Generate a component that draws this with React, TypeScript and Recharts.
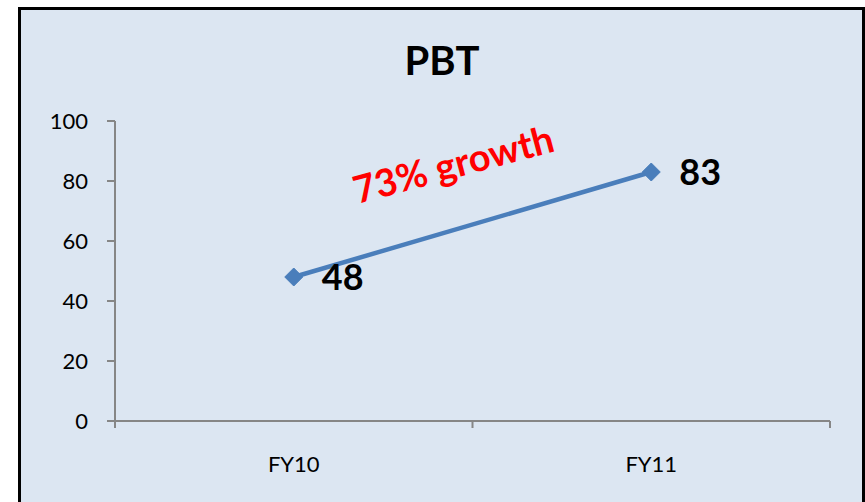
import React from 'react';
import { LineChart, Line, XAxis, YAxis, LabelList } from 'recharts';

const categories = ['FY10', 'FY11'];
const pbtValues = [48, 83];
const yTicks = [0, 20, 40, 60, 80, 100];
const chartTitle = 'PBT';
const annotation = '73% growth';

const data = categories.map((c, i) => ({ name: c, pos: i + 0.5, value: pbtValues[i] }));
const boundaryTicks = categories.map((_, i) => i).concat([categories.length]);
const centerTicks = categories.map((_, i) => i + 0.5);

const FONT = "Lato, 'Open Sans', sans-serif";
const AXIS = '#868686';
const LINE = '#4a7ebb';
const BG = '#dce6f2';

const Diamond = (props: any) => {
  const { cx, cy } = props;
  if (cx == null || cy == null) return null;
  const r = 9;
  return (
    <path
      d={`M${cx},${cy - r}L${cx + r},${cy}L${cx},${cy + r}L${cx - r},${cy}Z`}
      fill={LINE}
      stroke={LINE}
      strokeWidth={1}
    />
  );
};

const CatTick = (props: any) => {
  const { x, y, payload } = props;
  const idx = Math.round(payload.value - 0.5);
  return (
    <text x={x} y={y + 43} textAnchor="middle" fontFamily={FONT} fontSize={22} fill="#000">
      {categories[idx]}
    </text>
  );
};

export default function App() {
  return (
    <div style={{ position: 'absolute', left: 0, top: 0, width: 865, height: 502, background: '#fff', overflow: 'hidden' }}>
      <div
        style={{
          position: 'absolute',
          left: 18,
          top: 7,
          width: 841,
          height: 520,
          background: BG,
          borderLeft: '3px solid #000',
          borderTop: '3px solid #000',
          borderRight: '3px solid #000',
        }}
      />
      <div style={{ position: 'absolute', left: 0, top: 0 }}>
        <LineChart width={865} height={502} data={data} margin={{ top: 121, right: 35, bottom: 33, left: 35 }}>
          <XAxis
            xAxisId="frame"
            dataKey="pos"
            type="number"
            domain={[0, categories.length]}
            ticks={boundaryTicks}
            tickFormatter={() => ''}
            tickSize={7}
            height={8}
            axisLine={{ stroke: AXIS, strokeWidth: 2 }}
            tickLine={{ stroke: AXIS, strokeWidth: 2 }}
            allowDataOverflow
          />
          <XAxis
            xAxisId="labels"
            dataKey="pos"
            type="number"
            domain={[0, categories.length]}
            ticks={centerTicks}
            tick={<CatTick />}
            tickSize={0}
            tickMargin={0}
            height={40}
            axisLine={false}
            tickLine={false}
          />
          <YAxis
            type="number"
            domain={[0, 100]}
            ticks={yTicks}
            width={80}
            tickSize={8}
            tickMargin={19}
            axisLine={{ stroke: AXIS, strokeWidth: 2 }}
            tickLine={{ stroke: AXIS, strokeWidth: 2 }}
            tick={{ fill: '#000', fontSize: 22, fontFamily: FONT }}
          />
          <Line
            xAxisId="frame"
            type="linear"
            dataKey="value"
            stroke={LINE}
            strokeWidth={4.5}
            dot={<Diamond />}
            activeDot={false}
            isAnimationActive={false}
          >
            <LabelList
              dataKey="value"
              position="right"
              offset={28}
              style={{ fontSize: 36, fontWeight: 700, fontFamily: FONT, fill: '#000' }}
            />
          </Line>
        </LineChart>
      </div>
      <svg width={865} height={502} style={{ position: 'absolute', left: 0, top: 0, pointerEvents: 'none' }}>
        <text x={442} y={75} textAnchor="middle" fontFamily={FONT} fontWeight={700} fontSize={40} fill="#000">
          {chartTitle}
        </text>
        <text
          x={453}
          y={163}
          transform="rotate(-15 453 163)"
          textAnchor="middle"
          dominantBaseline="central"
          fontFamily={FONT}
          fontWeight={700}
          fontSize={38}
          fill="#ff0000"
        >
          {annotation}
        </text>
      </svg>
    </div>
  );
}
